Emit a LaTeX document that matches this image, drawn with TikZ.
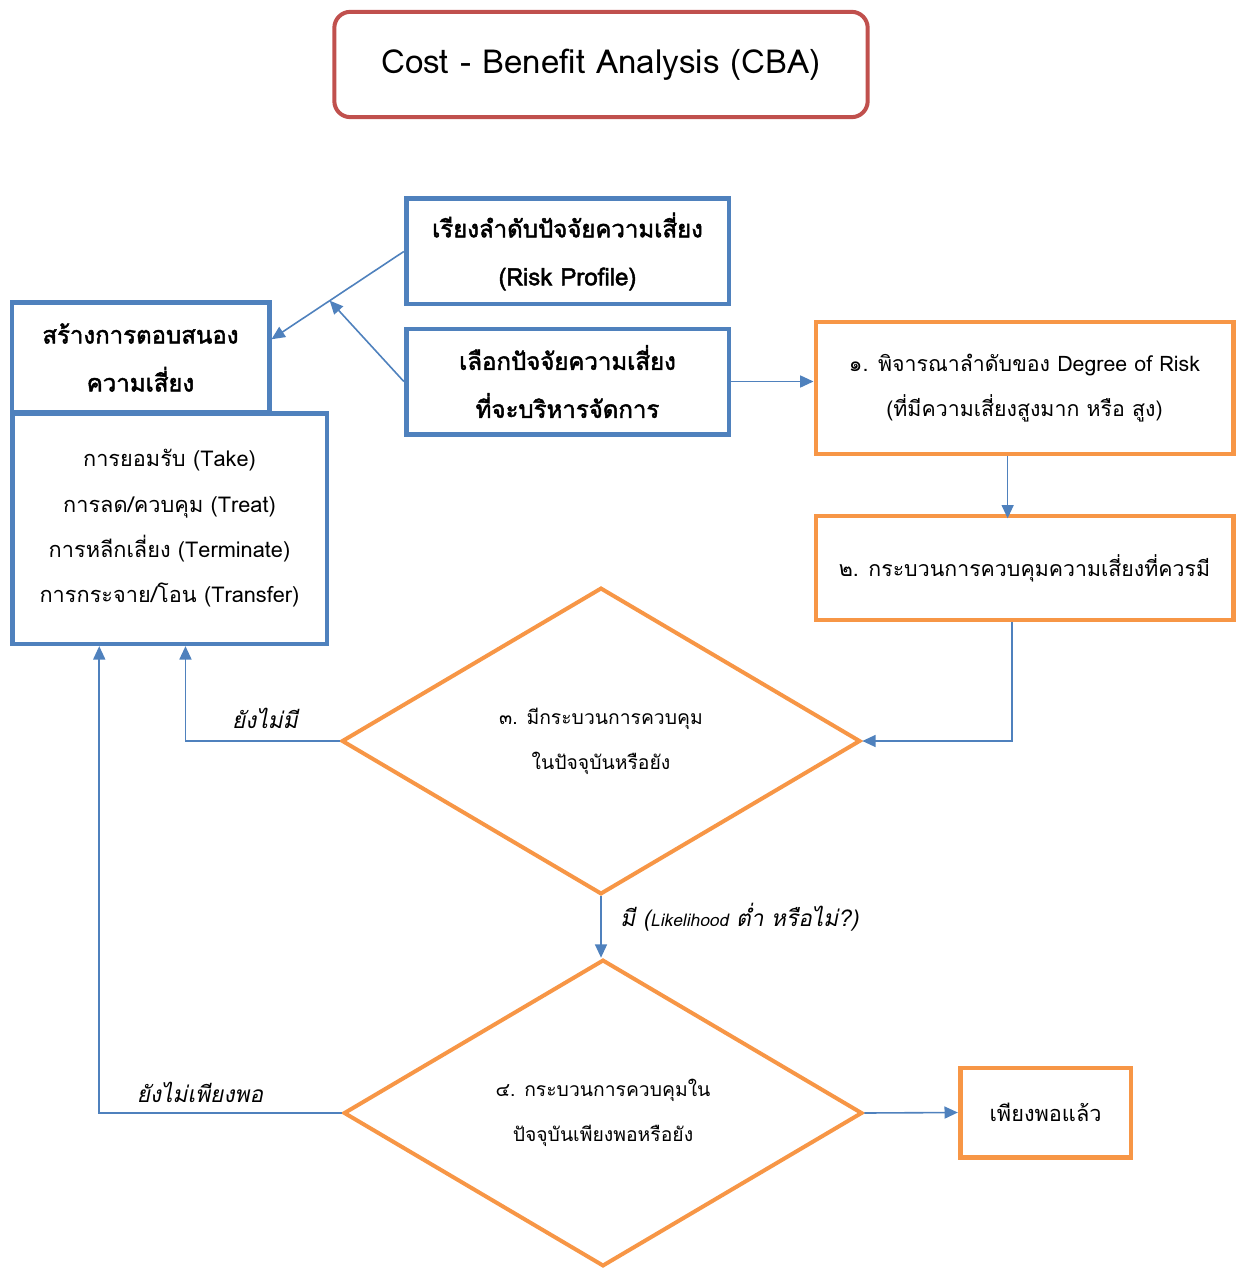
\documentclass[tikz,border=0pt]{standalone}
\usepackage{fontspec}
\setmainfont[Script=Thai,AutoFakeSlant=0.2,AutoFakeBold=2]{Loma}
\usetikzlibrary{shapes.geometric,arrows.meta,calc}
\definecolor{boxblue}{RGB}{79,129,189}
\definecolor{boxorange}{RGB}{247,150,70}
\definecolor{boxred}{RGB}{192,80,77}
\begin{document}
\begin{tikzpicture}
            [
                x=0.75pt, y=-0.75pt,
                every node/.style = {align=center, inner sep=0pt,
                font=\fontsize{16.3}{34}\selectfont},
                titlebox/.style  = {draw=boxred, line width=3pt, rounded corners=12pt,
                minimum width=400pt, minimum height=79pt, font=\fontsize{24.8}{28}\selectfont},
                bluebox/.style   = {draw=boxblue, line width=3.5pt},
                headbox/.style   = {bluebox, font=\fontsize{18}{36}\selectfont\bfseries},
                orangebox/.style = {draw=boxorange, line width=3.5pt},
                decision/.style  = {diamond, draw=boxorange, line width=3pt, aspect=1.69,
                minimum width=389pt, minimum height=230pt, font=\fontsize{14.5}{34}\selectfont},
                flow/.style      = {draw=boxblue, line width=1.2pt,
                -{Triangle[length=10pt,width=9pt]}},
                answer/.style    = {font=\fontsize{17}{20}\selectfont\itshape}
            ]
            \useasboundingbox (0,0) rectangle (1235,1269);
            % title
            \node[titlebox] (cba) at (601,64.5) {Cost - Benefit Analysis (CBA)};
            % left column
            \node[headbox, minimum width=242pt, minimum height=79pt] (rp) at (567.5,251.5)
                {เรียงลำดับปัจจัยความเสี่ยง \\ (Risk Profile)};
            \node[headbox, minimum width=242pt, minimum height=79pt] (sel) at (567.5,381.5)
                {เลือกปัจจัยความเสี่ยง \\ ที่จะบริหารจัดการ};
            \node[headbox, minimum width=193pt, minimum height=82pt] (resp) at (140.5,357.5)
                {สร้างการตอบสนอง \\ ความเสี่ยง};
            \node[bluebox, minimum width=236pt, minimum height=173pt] (list) at (169.5,528.5)
                {การยอมรับ (Take) \\ การลด/ควบคุม (Treat) \\ การหลีกเลี่ยง (Terminate) \\
                 การกระจาย/โอน (Transfer)};
            % right column
            \node[orangebox, minimum width=313pt, minimum height=99pt,
                font=\fontsize{16}{34}\selectfont] (deg) at (1024.5,388)
                {๑. พิจารณาลำดับของ Degree of Risk \\ (ที่มีความเสี่ยงสูงมาก หรือ สูง)};
            \node[orangebox, minimum width=313pt, minimum height=78pt,
                font=\fontsize{16}{34}\selectfont] (ctl) at (1024.5,568)
                {๒. กระบวนการควบคุมความเสี่ยงที่ควรมี};
            % decisions
            \node[decision] (has) at (601,741) {๓. มีกระบวนการควบคุม \\ ในปัจจุบันหรือยัง};
            \node[decision] (enough) at (603,1113) {๔. กระบวนการควบคุมใน \\ ปัจจุบันเพียงพอหรือยัง};
            \node[orangebox, minimum width=128pt, minimum height=67pt] (done) at (1045.5,1112.5)
                {เพียงพอแล้ว};

            % connectors
            \coordinate (respin) at ($(resp.north east)!0.34!(resp.south east)$);
            \draw[flow] (rp.west) -- (respin);
            \draw[flow] (sel.west) -- ($(rp.west)!0.56!(respin)$);
            \draw[flow] (sel.east) -- (sel.east -| deg.west);
            \draw[flow] ($(deg.south west)!0.46!(deg.south east)$) -- ++(0,62);
            \draw[flow] ($(ctl.south west)!0.47!(ctl.south east)$) |- (has.east);
            \draw[flow] (has.west) -| ($(list.south west)!0.55!(list.south east)$);
            \draw[flow] (has.south) -- (has.south |- enough.north);
            \draw[flow] (enough.west) -| ($(list.south west)!0.28!(list.south east)$);
            \draw[flow] (enough.east) -- (done.west);

            % answers
            \node[answer] (no1) at (265,718) {ยังไม่มี};
            \node[answer, anchor=west] (yes1) at (620,917)
                {มี ({\fontsize{13}{16}\selectfont Likelihood} ต่ำ หรือไม่?)};
            \node[answer] (no2) at (200,1092) {ยังไม่เพียงพอ};
\end{tikzpicture}
\end{document}
